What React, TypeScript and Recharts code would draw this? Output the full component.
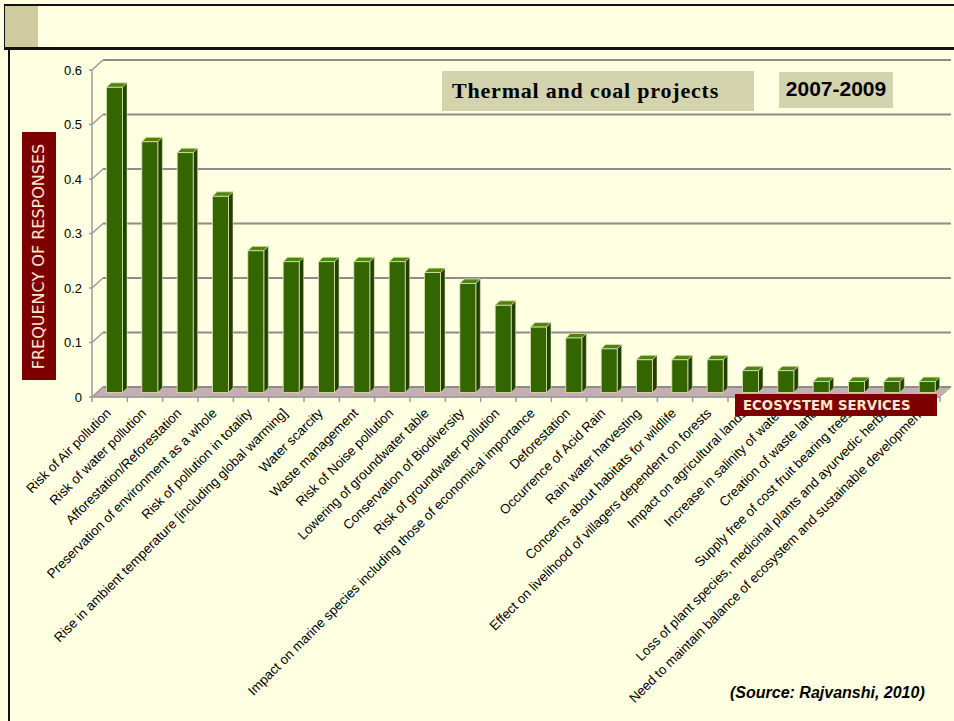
import React from 'react'
import { BarChart, Bar, XAxis, YAxis, CartesianGrid } from 'recharts'

const categories = [
  'Risk of Air pollution',
  'Risk of water pollution',
  'Afforestation/Reforestation',
  'Preservation of environment as a whole',
  'Risk of pollution in totality',
  'Rise in ambient temperature [including global warming]',
  'Water scarcity',
  'Waste management',
  'Risk  of Noise pollution',
  'Lowering of groundwater table',
  'Conservation of Biodiversity',
  'Risk of groundwater pollution',
  'Impact on marine species including those of economical importance',
  'Deforestation',
  'Occurrence of Acid Rain',
  'Rain water harvesting',
  'Concerns about habitats for wildlife',
  'Effect on livelihood of villagers dependent on forests',
  'Impact on agricultural lands',
  'Increase in salinity of water',
  'Creation of waste land',
  'Supply free of cost fruit bearing trees',
  'Loss of plant species, medicinal plants and ayurvedic herbs',
  'Need to maintain balance of ecosystem and sustainable development',
]

const frequency = [
  0.56, 0.46, 0.44, 0.36, 0.26, 0.24, 0.24, 0.24, 0.24, 0.22, 0.2, 0.16,
  0.12, 0.1, 0.08, 0.06, 0.06, 0.06, 0.04, 0.04, 0.02, 0.02, 0.02, 0.02,
]

const yTicks = [0, 0.1, 0.2, 0.3, 0.4, 0.5, 0.6]

const data = categories.map((name, i) => ({ name, value: frequency[i] }))

// layout
const W = 954
const H = 721
const MARGIN = { top: 70, right: 14, bottom: 24, left: 52 }
const Y_AXIS_W = 40
const X_AXIS_H = 300
const PLOT_LEFT = MARGIN.left + Y_AXIS_W
const PLOT_W = W - PLOT_LEFT - MARGIN.right
const PLOT_BOTTOM = H - MARGIN.bottom - X_AXIS_H
const BAND = PLOT_W / categories.length

// 3d wall offset and bar depth
const DX = 11
const DY = 10
const SHIFT = 4.5
const DEPTH = 4.5

const font = '"Liberation Sans", Arial, sans-serif'

function Bar3D(props: any) {
  const { x, y, width, height } = props
  if (height == null || height <= 0) return null
  const fx = x + SHIFT
  const fy = y - SHIFT
  const d = DEPTH
  const edge = '#e2e2b4'
  return (
    <g>
      <polygon
        points={`${fx},${fy} ${fx + d},${fy - d} ${fx + width + d},${fy - d} ${fx + width},${fy}`}
        fill="#4f840f"
        stroke={edge}
        strokeWidth={0.8}
      />
      <polygon
        points={`${fx + width},${fy} ${fx + width + d},${fy - d} ${fx + width + d},${fy + height - d} ${fx + width},${fy + height}`}
        fill="#1f4200"
        stroke={edge}
        strokeWidth={0.6}
      />
      <rect x={fx} y={fy} width={width} height={height} fill="#336600" stroke={edge} strokeWidth={0.8} />
    </g>
  )
}

function gridLine(p: any) {
  const { x1, x2, y1 } = p
  const isFloor = Math.abs(y1 - PLOT_BOTTOM) < 1
  return (
    <g key={p.key}>
      {isFloor && (
        <polygon
          points={`${x1},${y1} ${x2},${y1} ${x2 + DX},${y1 - DY} ${x1 + DX},${y1 - DY}`}
          fill="#c4aeb1"
          stroke="#a9a9a9"
          strokeWidth={1}
        />
      )}
      <line x1={x1 + DX} y1={y1 - DY} x2={x2 + DX} y2={y1 - DY} stroke="#8c8c8c" strokeWidth={2} />
    </g>
  )
}

function YTick(props: any) {
  const { x, y, payload } = props
  return (
    <g>
      <line x1={x - 3} y1={y} x2={x} y2={y} stroke="#9a9a9a" strokeWidth={1.5} />
      <line x1={x} y1={y} x2={x + DX} y2={y - DY} stroke="#9a9a9a" strokeWidth={1.5} />
      <text x={x - 10} y={y} dy={4.5} textAnchor="end" fontFamily={font} fontSize={13} fill="#000">
        {payload.value}
      </text>
    </g>
  )
}

function XTick(props: any) {
  const { x, y, payload, index } = props
  const last = index === categories.length - 1
  const ax = x + 2
  const ay = y + 17
  return (
    <g>
      <line x1={x - BAND / 2} y1={y} x2={x - BAND / 2} y2={y + 5} stroke="#9a9a9a" strokeWidth={1.5} />
      {last && <line x1={x + BAND / 2} y1={y} x2={x + BAND / 2} y2={y + 5} stroke="#9a9a9a" strokeWidth={1.5} />}
      <text
        x={ax}
        y={ay}
        textAnchor="end"
        transform={`rotate(-45, ${ax}, ${ay})`}
        fontFamily={font}
        fontSize={13.3}
        fill="#000"
      >
        {payload.value}
      </text>
    </g>
  )
}

export default function App() {
  return (
    <div
      style={{
        position: 'absolute',
        left: 0,
        top: 0,
        width: W,
        height: H,
        background: '#ffffe1',
        overflow: 'hidden',
        fontFamily: font,
      }}
    >
      {/* slide header band */}
      <div style={{ position: 'absolute', left: 4, top: 4, right: 0, height: 2, background: '#111' }} />
      <div style={{ position: 'absolute', left: 4, top: 4, width: 1.5, height: 46, background: '#111' }} />
      <div style={{ position: 'absolute', left: 5, top: 6, width: 33, height: 41, background: '#cecb9e' }} />
      <div style={{ position: 'absolute', left: 4, top: 47, right: 0, height: 3, background: '#111' }} />

      <div style={{ position: 'absolute', left: 0, top: 0 }}>
        <BarChart width={W} height={H} data={data} margin={MARGIN} barSize={16}>
          <CartesianGrid vertical={false} horizontal={gridLine} />
          <XAxis
            dataKey="name"
            interval={0}
            height={X_AXIS_H}
            tickLine={false}
            tickSize={0}
            tickMargin={0}
            axisLine={{ stroke: '#9a9a9a', strokeWidth: 1.5 }}
            tick={<XTick />}
          />
          <YAxis
            domain={[0, 0.6]}
            ticks={yTicks}
            width={Y_AXIS_W}
            tickLine={false}
            tickSize={0}
            tickMargin={0}
            axisLine={{ stroke: '#9a9a9a', strokeWidth: 1.5 }}
            tick={<YTick />}
          />
          <Bar dataKey="value" shape={<Bar3D />} isAnimationActive={false} />
        </BarChart>
      </div>

      {/* left slide border */}
      <div style={{ position: 'absolute', left: 7.5, top: 50, width: 2.5, bottom: 0, background: '#111' }} />

      {/* y axis title */}
      <div
        style={{
          position: 'absolute',
          left: 22,
          top: 132,
          width: 34,
          height: 248,
          background: '#7d0000',
          display: 'flex',
          alignItems: 'center',
          justifyContent: 'center',
        }}
      >
        <div
          style={{
            transform: 'rotate(-90deg)',
            whiteSpace: 'nowrap',
            color: '#ffe6cf',
            fontFamily: '"DejaVu Sans", Verdana, sans-serif',
            fontSize: 16,
          }}
        >
          FREQUENCY OF RESPONSES
        </div>
      </div>

      {/* title boxes */}
      <div
        style={{
          position: 'absolute',
          left: 442,
          top: 71,
          width: 312,
          height: 40,
          background: '#d3d3ae',
          fontFamily: '"Liberation Serif", "Times New Roman", serif',
          fontWeight: 'bold',
          fontSize: 22,
          letterSpacing: 0.8,
          lineHeight: '40px',
          paddingLeft: 10,
          boxSizing: 'border-box',
          color: '#000',
          whiteSpace: 'nowrap',
        }}
      >
        Thermal and coal projects
      </div>
      <div
        style={{
          position: 'absolute',
          left: 779,
          top: 72,
          width: 114,
          height: 36,
          background: '#d3d3ae',
          fontFamily: font,
          fontWeight: 'bold',
          fontSize: 21,
          lineHeight: '34px',
          textAlign: 'center',
          color: '#000',
        }}
      >
        2007-2009
      </div>

      {/* ecosystem services tag */}
      <div
        style={{
          position: 'absolute',
          left: 735,
          top: 394,
          width: 202,
          height: 22,
          background: '#7d0000',
          color: '#ffe6cf',
          fontFamily: '"DejaVu Sans", sans-serif',
          fontWeight: 'bold',
          fontSize: 13.3,
          lineHeight: '23px',
          paddingLeft: 8,
          boxSizing: 'border-box',
          whiteSpace: 'nowrap',
        }}
      >
        ECOSYSTEM SERVICES
      </div>

      {/* source */}
      <div
        style={{
          position: 'absolute',
          left: 730,
          top: 684,
          fontFamily: font,
          fontWeight: 'bold',
          fontStyle: 'italic',
          fontSize: 16,
          color: '#000',
          whiteSpace: 'nowrap',
        }}
      >
        (Source: Rajvanshi, 2010)
      </div>
    </div>
  )
}
